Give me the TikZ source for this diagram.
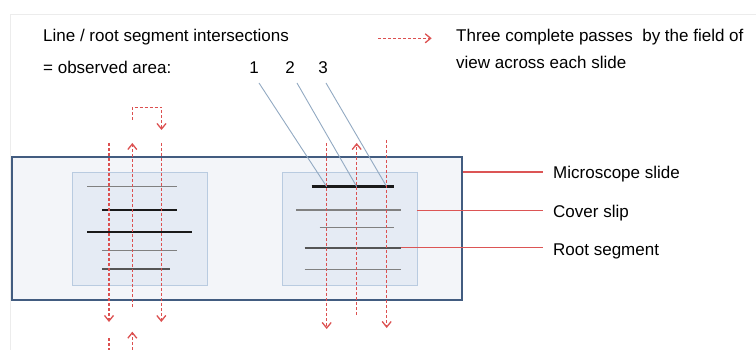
\documentclass[tikz,border=0pt]{standalone}
\usepackage{fontspec}
\setmainfont{Liberation Sans}
\usetikzlibrary{arrows.meta}
\definecolor{slidefill}{RGB}{243,245,249}
\definecolor{slideborder}{RGB}{66,92,128}
\definecolor{coverfill}{RGB}{229,235,244}
\definecolor{coverborder}{RGB}{185,203,224}
\definecolor{passred}{RGB}{220,80,80}
\definecolor{labred}{RGB}{220,85,85}
\definecolor{pointer}{RGB}{146,169,194}
\definecolor{thinroot}{RGB}{128,128,128}
\definecolor{midroot}{RGB}{85,85,85}
\definecolor{frame}{RGB}{236,236,236}
\tikzset{
  slidebox/.style={draw=slideborder, fill=slidefill, line width=2pt, inner sep=0},
  coverbox/.style={draw=coverborder, fill=coverfill, line width=0.8pt, inner sep=0},
  thickroot/.style={draw=black!90, line width=2.6pt},
  thinrootline/.style={draw=thinroot, line width=1.2pt},
  midrootline/.style={draw=midroot, line width=2pt},
  pass/.style={draw=passred, line width=1.5pt, dash pattern=on 3pt off 2pt},
  passarrow/.style={pass, -{Straight Barb[length=5.5pt,width=9pt,line width=1.3pt]}},
  pointerline/.style={draw=pointer, line width=0.9pt},
  labline/.style={draw=labred, line width=1.5pt},
  txt/.style={inner sep=0, anchor=base west, font=\fontsize{17}{20}\selectfont},
}
\begin{document}
\begin{tikzpicture}[x=1pt,y=-1pt]
\useasboundingbox (0,0) rectangle (756,350);
% faint page frame
\draw[frame, line width=0.8pt] (10,350) -- (10,14) -- (756,14);

% texts
\node[txt] (t1) at (43,41.5) {Line / root segment intersections};
\node[txt] (t2) at (43,73.5) {= observed area:};
\node[txt, anchor=base] (n1) at (254,74) {1};
\node[txt, anchor=base] (n2) at (290,74) {2};
\node[txt, anchor=base] (n3) at (323,74) {3};
\node[txt] (leg1) at (456,41.5) {Three complete passes\ \ by the field of};
\node[txt] (leg2) at (456,68.5) {view across each slide};
\coordinate (legA) at (378,38.3);
\coordinate (legB) at (431.7,38.3);
\draw[passarrow] (legA) -- (legB);

% slide and cover slips
\node[slidebox, minimum width=450pt, minimum height=143pt] (slide) at (237,228.5) {};
\node[coverbox, minimum width=135pt, minimum height=113pt] (cov1) at (139.5,228.5) {};
\node[coverbox, minimum width=135pt, minimum height=113pt] (cov2) at (349.5,228.5) {};

% left roots
\coordinate (a1) at (87,186.7);  \coordinate (b1) at (177,186.7);
\coordinate (a2) at (102,210);   \coordinate (b2) at (177,210);
\coordinate (a3) at (87,232);    \coordinate (b3) at (192,232);
\coordinate (a4) at (102,250.3); \coordinate (b4) at (177,250.3);
\coordinate (a5) at (102,269.3); \coordinate (b5) at (170,269.3);
\draw[thinrootline] (a1) -- (b1);
\draw[thickroot] (a2) -- (b2);
\draw[thickroot] (a3) -- (b3);
\draw[thinrootline] (a4) -- (b4);
\draw[midrootline] (a5) -- (b5);

% right roots
\coordinate (c1) at (311.7,186.7); \coordinate (d1) at (394,186.7);
\coordinate (c2) at (296.3,210);   \coordinate (d2) at (401.3,210);
\coordinate (c3) at (319.7,227.7); \coordinate (d3) at (394.3,227.7);
\coordinate (c4) at (304.7,247.7); \coordinate (d4) at (401.3,247.7);
\coordinate (c5) at (304.7,269.3); \coordinate (d5) at (401.3,269.3);
\draw[thickroot] (c1) -- (d1);
\draw[thinrootline] (c2) -- (d2);
\draw[thinrootline] (c3) -- (d3);
\draw[midrootline] (c4) -- (d4);
\draw[thinrootline] (c5) -- (d5);

% pointer lines from numbers to intersections
\coordinate (p1) at (259,83);  \coordinate (q1) at (326.7,186.7);
\coordinate (p2) at (297,83);  \coordinate (q2) at (356.7,186.7);
\coordinate (p3) at (326,83);  \coordinate (q3) at (386.7,186.7);
\draw[pointerline] (p1) -- (q1);
\draw[pointerline] (p2) -- (q2);
\draw[pointerline] (p3) -- (q3);

% left passes
\coordinate (l1s) at (109,143);   \coordinate (l1e) at (109,322);
\coordinate (l1t) at (109,338);   \coordinate (l1b) at (109,350);
\coordinate (l2s) at (132.3,307); \coordinate (l2e) at (132.3,143);
\coordinate (l2t) at (132.3,350); \coordinate (l2b) at (132.3,331.7);
\coordinate (l3s) at (161.3,143); \coordinate (l3e) at (161.3,322);
\coordinate (k1) at (132.3,120);  \coordinate (k2) at (132.3,107.3);
\coordinate (k3) at (161.5,107.3);\coordinate (k4) at (161.5,130);
\draw[passarrow] (l1s) -- (l1e);
\draw[pass] (l1t) -- (l1b);
\draw[passarrow] (l2s) -- (l2e);
\draw[passarrow] (l2t) -- (l2b);
\draw[passarrow] (l3s) -- (l3e);
\draw[passarrow] (k1) -- (k2) -- (k3) -- (k4);

% right passes
\coordinate (r1s) at (326.7,143); \coordinate (r1e) at (326.7,329);
\coordinate (r2s) at (356.7,315); \coordinate (r2e) at (356.7,143);
\coordinate (r3s) at (386.7,140); \coordinate (r3e) at (386.7,328);
\draw[passarrow] (r1s) -- (r1e);
\draw[passarrow] (r2s) -- (r2e);
\draw[passarrow] (r3s) -- (r3e);

% labels
\node[txt] (lab1) at (553,178.3) {Microscope slide};
\node[txt] (lab2) at (553,217.3) {Cover slip};
\node[txt] (lab3) at (553,255) {Root segment};
\coordinate (e1) at (543,172);
\coordinate (e2) at (543,210.3);
\coordinate (e3) at (543,247.7);
\draw[labline] (slide.east |- e1) -- (e1);
\draw[labline] (cov2.east |- e2) -- (e2);
\draw[labline] (d4) -- (e3);
\end{tikzpicture}
\end{document}
